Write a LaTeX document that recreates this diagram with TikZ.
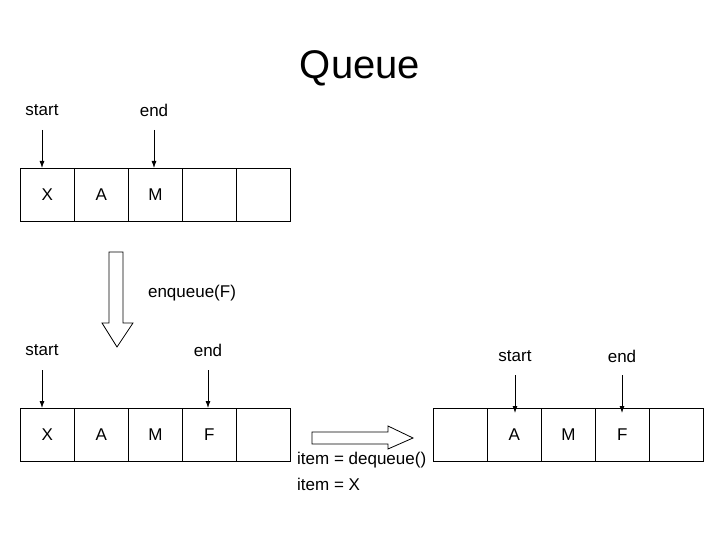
\documentclass[tikz,border=0pt]{standalone}
\usepackage{fontspec}
\setmainfont{Liberation Sans}
\begin{document}
\begin{tikzpicture}[x=1pt,y=-1pt,
  cell/.style={draw,line width=0.8pt,minimum width=54pt,minimum height=53pt,inner sep=0,anchor=north west,font=\fontsize{17}{20}\selectfont},
  lbl/.style={font=\fontsize{17}{20}\selectfont,inner sep=0},
  ptr/.style={-{Latex[length=7pt,width=5pt]},line width=0.8pt},
  hollow/.style={draw,line width=0.8pt,fill=white}]
\usetikzlibrary{arrows.meta}
\useasboundingbox (0,0) rectangle (720,540);
\node[font=\fontsize{40}{44}\selectfont,inner sep=0] (title) at (360,68) {Queue};
% top array
\foreach \i/\t in {1/X,2/A,3/M,4/,5/}{
  \node[cell] (t\i) at ({20+54*(\i-1)},168) {\t};}
\node[lbl] (ts) at (42,110) {start};
\node[lbl] (te) at (154,110) {end};
\coordinate (tsa) at (42,130); \coordinate (tsb) at (42,168);
\coordinate (tea) at (154,130); \coordinate (teb) at (154,168);
\draw[ptr] (tsa) -- (tsb);
\draw[ptr] (tea) -- (teb);
% down arrow
\draw[hollow] (109,252) -- (123,252) -- (123,323) -- (133,323) -- (117,347) -- (102,323) -- (109,323) -- cycle;
\node[lbl] (enq) at (192,293) {enqueue(F)};
% middle array
\foreach \i/\t in {1/X,2/A,3/M,4/F,5/}{
  \node[cell] (m\i) at ({20+54*(\i-1)},408) {\t};}
\node[lbl] (ms) at (42,350) {start};
\node[lbl] (me) at (208,350) {end};
\coordinate (msa) at (42,370); \coordinate (msb) at (42,408);
\coordinate (mea) at (208,370); \coordinate (meb) at (208,408);
\draw[ptr] (msa) -- (msb);
\draw[ptr] (mea) -- (meb);
% right arrow
\draw[hollow] (312,432) -- (388,432) -- (388,426) -- (413,438) -- (388,449) -- (388,444) -- (312,444) -- cycle;
\node[lbl,anchor=north west] (deq) at (297,452) {item = dequeue()};
\node[lbl,anchor=north west] (itx) at (297,478) {item = X};
% right array
\foreach \i/\t in {1/,2/A,3/M,4/F,5/}{
  \node[cell] (r\i) at ({433+54*(\i-1)},408) {\t};}
\node[lbl] (rs) at (515,356) {start};
\node[lbl] (re) at (622,356) {end};
\coordinate (rsa) at (515,375); \coordinate (rsb) at (515,413);
\coordinate (rea) at (622,375); \coordinate (reb) at (622,413);
\draw[ptr] (rsa) -- (rsb);
\draw[ptr] (rea) -- (reb);
\end{tikzpicture}
\end{document}
